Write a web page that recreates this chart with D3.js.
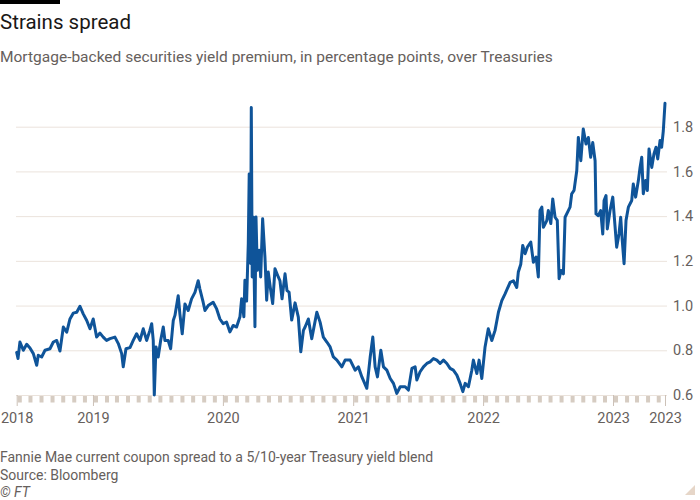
<!DOCTYPE html>
<html>
<head>
<meta charset="utf-8">
<script src="https://cdn.jsdelivr.net/npm/d3@7"></script>
<style>
  html, body { margin: 0; padding: 0; background: #ffffff; }
  svg { display: block; }
  text { font-family: Roboto, "Noto Sans", sans-serif; }
</style>
</head>
<body>
<svg id="chart" width="700" height="500"></svg>
<script>
// ---- DATA (dates as decimal years, values in percentage points) ----
const dates = [
  2018.413, 2018.423, 2018.438, 2018.464, 2018.490, 2018.515, 2018.541, 2018.567, 2018.579, 2018.605,
  2018.631, 2018.669, 2018.695, 2018.721, 2018.746, 2018.772, 2018.798, 2018.823, 2018.848, 2018.875,
  2018.900, 2018.925, 2018.952, 2018.977, 2019.002, 2019.028, 2019.054, 2019.079, 2019.105, 2019.131,
  2019.169, 2019.195, 2019.221, 2019.233, 2019.254, 2019.285, 2019.310, 2019.336, 2019.362, 2019.387,
  2019.413, 2019.438, 2019.452, 2019.464, 2019.472, 2019.485, 2019.502, 2019.521, 2019.541, 2019.554,
  2019.579, 2019.598, 2019.618, 2019.631, 2019.656, 2019.669, 2019.687, 2019.708, 2019.733, 2019.759,
  2019.785, 2019.810, 2019.823, 2019.848, 2019.862, 2019.887, 2019.925, 2019.952, 2019.977, 2020.002,
  2020.028, 2020.054, 2020.079, 2020.105, 2020.131, 2020.144, 2020.161, 2020.169, 2020.182, 2020.195,
  2020.202, 2020.213, 2020.218, 2020.225, 2020.233, 2020.246, 2020.254, 2020.264, 2020.279, 2020.290,
  2020.305, 2020.323, 2020.336, 2020.348, 2020.367, 2020.382, 2020.400, 2020.425, 2020.438, 2020.454,
  2020.477, 2020.492, 2020.508, 2020.528, 2020.554, 2020.579, 2020.598, 2020.618, 2020.631, 2020.656,
  2020.682, 2020.721, 2020.746, 2020.771, 2020.798, 2020.823, 2020.848, 2020.875, 2020.913, 2020.938,
  2020.977, 2021.015, 2021.040, 2021.067, 2021.105, 2021.131, 2021.151, 2021.169, 2021.187, 2021.213,
  2021.233, 2021.259, 2021.285, 2021.310, 2021.336, 2021.362, 2021.400, 2021.425, 2021.452, 2021.477,
  2021.490, 2021.515, 2021.541, 2021.567, 2021.592, 2021.618, 2021.644, 2021.669, 2021.695, 2021.721,
  2021.746, 2021.771, 2021.798, 2021.823, 2021.844, 2021.862, 2021.887, 2021.913, 2021.925, 2021.952,
  2021.969, 2021.990, 2022.015, 2022.040, 2022.067, 2022.092, 2022.118, 2022.144, 2022.169, 2022.208,
  2022.233, 2022.259, 2022.271, 2022.290, 2022.305, 2022.323, 2022.341, 2022.367, 2022.387, 2022.408,
  2022.425, 2022.438, 2022.452, 2022.464, 2022.490, 2022.502, 2022.521, 2022.536, 2022.554, 2022.571,
  2022.585, 2022.600, 2022.618, 2022.631, 2022.656, 2022.669, 2022.682, 2022.700, 2022.721, 2022.733,
  2022.752, 2022.771, 2022.792, 2022.810, 2022.828, 2022.844, 2022.862, 2022.869, 2022.887, 2022.905,
  2022.921, 2022.931, 2022.946, 2022.956, 2022.977, 2022.998, 2023.015, 2023.028, 2023.046, 2023.059,
  2023.071, 2023.085, 2023.100, 2023.118, 2023.144, 2023.156, 2023.174, 2023.195, 2023.208, 2023.221,
  2023.233, 2023.251, 2023.264, 2023.277, 2023.298, 2023.315, 2023.331, 2023.344, 2023.362, 2023.374,
  2023.387, 2023.400
];
const spread = [
  0.790, 0.763, 0.837, 0.800, 0.827, 0.810, 0.785, 0.733, 0.778, 0.770,
  0.800, 0.807, 0.837, 0.844, 0.797, 0.904, 0.881, 0.940, 0.966, 0.970,
  0.997, 0.963, 0.933, 0.896, 0.940, 0.859, 0.877, 0.859, 0.844, 0.852,
  0.859, 0.830, 0.785, 0.726, 0.807, 0.812, 0.844, 0.874, 0.844, 0.896,
  0.844, 0.889, 0.919, 0.844, 0.600, 0.815, 0.770, 0.844, 0.904, 0.844,
  0.844, 0.807, 0.933, 0.956, 1.044, 0.963, 0.874, 1.007, 0.978, 1.030,
  1.059, 1.111, 1.074, 1.015, 0.978, 1.000, 1.015, 0.985, 0.940, 0.919,
  0.926, 0.882, 0.911, 0.904, 0.950, 1.031, 0.950, 1.113, 1.020, 1.277,
  1.589, 1.188, 1.886, 1.128, 1.396, 0.905, 1.396, 1.158, 1.247, 1.128,
  1.388, 1.214, 1.024, 1.150, 1.068, 1.009, 1.165, 1.128, 1.111, 1.030,
  1.142, 1.067, 1.060, 0.935, 1.012, 0.948, 0.793, 0.889, 0.904, 0.940,
  0.852, 0.970, 0.926, 0.859, 0.837, 0.815, 0.770, 0.756, 0.726, 0.756,
  0.756, 0.711, 0.726, 0.681, 0.630, 0.770, 0.859, 0.726, 0.681, 0.800,
  0.726, 0.711, 0.674, 0.652, 0.607, 0.637, 0.637, 0.622, 0.719, 0.726,
  0.667, 0.704, 0.726, 0.741, 0.748, 0.763, 0.756, 0.741, 0.756, 0.741,
  0.719, 0.711, 0.689, 0.652, 0.615, 0.652, 0.637, 0.711, 0.756, 0.696,
  0.756, 0.674, 0.815, 0.896, 0.844, 0.889, 0.970, 1.022, 1.052, 1.104,
  1.111, 1.081, 1.150, 1.185, 1.269, 1.232, 1.262, 1.284, 1.194, 1.217,
  1.128, 1.425, 1.440, 1.350, 1.380, 1.425, 1.367, 1.477, 1.395, 1.381,
  1.120, 1.157, 1.142, 1.395, 1.425, 1.440, 1.500, 1.515, 1.604, 1.752,
  1.648, 1.790, 1.723, 1.752, 1.663, 1.729, 1.648, 1.410, 1.402, 1.425,
  1.320, 1.470, 1.492, 1.343, 1.425, 1.485, 1.358, 1.261, 1.320, 1.395,
  1.291, 1.187, 1.381, 1.440, 1.470, 1.544, 1.485, 1.559, 1.618, 1.663,
  1.500, 1.559, 1.515, 1.700, 1.618, 1.678, 1.708, 1.656, 1.738, 1.708,
  1.782, 1.905
];
const yTicks = [0.6, 0.8, 1.0, 1.2, 1.4, 1.6, 1.8];
const yearTickYears = [2019, 2020, 2021, 2022, 2023];
const xTickLabels = ["2018", "2019", "2020", "2021", "2022", "2023", "2023"];

const title = "Strains spread";
const subtitle = "Mortgage-backed securities yield premium, in percentage points, over Treasuries";
const noteLines = ["Fannie Mae current coupon spread to a 5/10-year Treasury yield blend", "Source: Bloomberg"];
const credit = "\u00A9 FT";

(function () {
  function decToDate(t) {
    const yr = Math.floor(t);
    const s = new Date(yr, 0, 1), e = new Date(yr + 1, 0, 1);
    return new Date(+s + (t - yr) * (e - s));
  }
  const data = dates.map((t, i) => ({ date: decToDate(t), value: spread[i] }));
  const start = data[0].date, end = data[data.length - 1].date;

  const svg = d3.select("#chart");
  const plotL = 16.7, plotR = 665, plotT = 126.7, plotB = 395;

  const x = d3.scaleTime().domain([start, end]).range([plotL, plotR]);
  const y = d3.scaleLinear().domain([0.6, 1.8]).range([plotB, plotT]);

  // top black bar
  svg.append("rect").attr("x", 0).attr("y", 0).attr("width", 60).attr("height", 4).attr("fill", "#000");

  // title & subtitle
  svg.append("text").attr("x", 0).attr("y", 29).attr("font-size", 20.5).attr("fill", "#1a1817").text(title);
  svg.append("text").attr("x", 0).attr("y", 62).attr("font-size", 15.5).attr("fill", "#66605c").text(subtitle);

  // y axis with gridlines
  const yAxis = d3.axisRight(y)
    .tickValues(yTicks)
    .tickSize(-(667 - 16))
    .tickPadding(6)
    .tickFormat(d3.format(".1f"));
  const gy = svg.append("g").attr("transform", "translate(667,0)").call(yAxis);
  gy.select(".domain").remove();
  gy.selectAll(".tick line").attr("stroke", "#ebe3dc").attr("stroke-width", 1);
  gy.selectAll(".tick text")
    .attr("font-family", "Roboto, sans-serif")
    .attr("font-size", 14.5)
    .attr("fill", "#66605c");

  // monthly tick blocks along baseline
  const months = d3.timeMonth.range(d3.timeMonth.ceil(start), end);
  svg.append("g").selectAll("rect").data(months).join("rect")
    .attr("x", d => x(d) + 1)
    .attr("y", 396)
    .attr("width", 4)
    .attr("height", 6.5)
    .attr("fill", "#d6ccc2");

  // year ticks + labels
  const xTickDates = [start].concat(yearTickYears.map(yr => new Date(yr, 0, 1))).concat([end]);
  const xAxis = d3.axisBottom(x)
    .tickValues(xTickDates)
    .tickSize(11)
    .tickPadding(7)
    .tickFormat((d, i) => xTickLabels[i]);
  const gx = svg.append("g").attr("transform", `translate(0,${plotB})`).call(xAxis);
  gx.select(".domain").remove();
  gx.selectAll(".tick line").attr("stroke", "#ccc1b7").attr("stroke-width", 1);
  gx.selectAll(".tick text")
    .attr("font-family", "Roboto, sans-serif")
    .attr("font-size", 14.5)
    .attr("fill", "#66605c");

  // line
  const line = d3.line().x(d => x(d.date)).y(d => y(d.value)).curve(d3.curveLinear);
  svg.append("path").datum(data)
    .attr("d", line)
    .attr("fill", "none")
    .attr("stroke", "#0f5499")
    .attr("stroke-width", 3)
    .attr("stroke-linejoin", "round")
    .attr("stroke-linecap", "round");

  // footer
  noteLines.forEach((t, i) => {
    svg.append("text").attr("x", 0).attr("y", 462 + i * 17.5)
      .attr("font-size", 14).attr("fill", "#66605c").text(t);
  });
  svg.append("text").attr("x", 0).attr("y", 497)
    .attr("font-size", 14).attr("font-style", "italic").attr("fill", "#66605c").text(credit);

  // corner triangle
  svg.append("path").attr("d", "M695,485 L695,495 L685,495 Z").attr("fill", "#e6d6c8");
})();
</script>
</body>
</html>
